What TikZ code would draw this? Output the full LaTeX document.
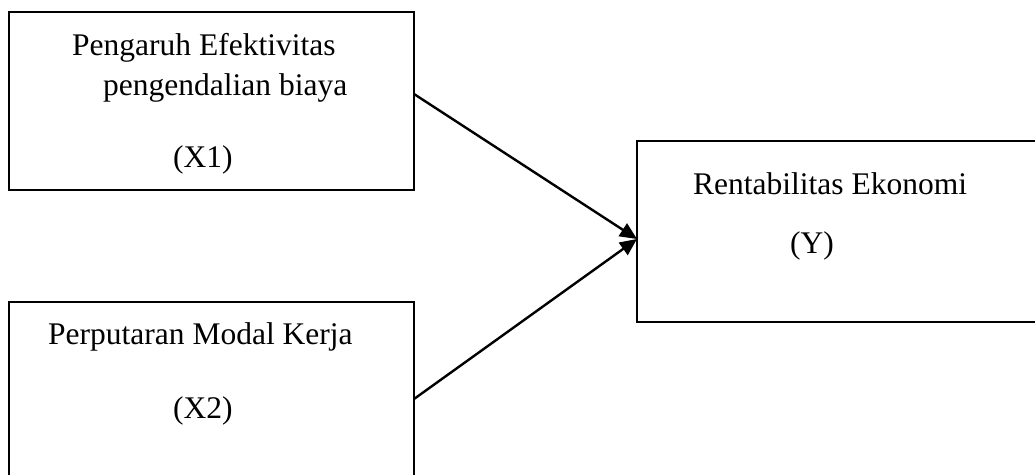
\documentclass[tikz,border=0pt]{standalone}
\usepackage{fontspec}
\setmainfont{Liberation Serif}
\usetikzlibrary{arrows.meta}
\begin{document}
\begin{tikzpicture}[x=1pt,y=1pt,
  boxstyle/.style={draw=black,line width=1.8pt,inner sep=0pt,outer sep=0pt},
  lbl/.style={anchor=base west,inner sep=0pt,font=\fontsize{31.5}{36}\selectfont},
  conn/.style={line width=2.4pt,-{Triangle[length=17pt,width=15pt]}}]
\useasboundingbox (0,0) rectangle (1035,474);
\clip (0,0) rectangle (1035,474);
% boxes (y measured from top: y' = 474 - y)
\node[boxstyle,minimum width=405pt,minimum height=178pt] (b1) at (211.5,373) {};
\node[boxstyle,minimum width=405pt,minimum height=190pt] (b2) at (211.5,77) {};
\node[boxstyle,minimum width=410pt,minimum height=181pt] (b3) at (842,242.5) {};
% labels
\node[lbl] (t1a) at (72,418) {Pengaruh Efektivitas};
\node[lbl] (t1b) at (103,378) {pengendalian biaya};
\node[lbl] (t1c) at (173,306) {(X1)};
\node[lbl] (t2a) at (48,129) {Perputaran Modal Kerja};
\node[lbl] (t2b) at (173,56) {(X2)};
\node[lbl] (t3a) at (693,279) {Rentabilitas Ekonomi};
\node[lbl] (t3b) at (790,220) {(Y)};
% connectors
\coordinate (s1) at ([yshift=-82pt]b1.north east);
\coordinate (s2) at ([yshift=-97pt]b2.north east);
\coordinate (e) at ([yshift=-98pt]b3.north west);
\draw[conn] (s1) -- (e);
\draw[conn] (s2) -- (e);
\end{tikzpicture}
\end{document}
